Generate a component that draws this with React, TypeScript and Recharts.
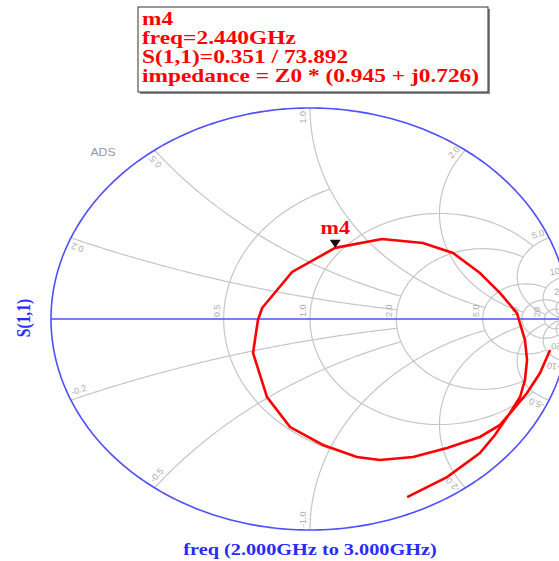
import React from "react";
import { ScatterChart, Scatter, XAxis, YAxis } from "recharts";

const W = 559;
const H = 561;
// centre of the Smith circle on the page and its radii (the plot is stretched sideways)
const CX = 310;
const CY = 319;
const RX = 259;
const RY = 211;
const STRETCH = RX / RY;

const X_MIN = -CX / RX;
const X_MAX = (W - CX) / RX;
const Y_MIN = (CY - H) / RY;
const Y_MAX = CY / RY;

const GRID = "#c6c6c6";
const GRID_TEXT = "#aaaaaa";
const BLUE = "#4f4fff";
const TEXT_BLUE = "#2a2aff";
const RED = "#ff0000";

// grid circles, and how far each one is drawn along the other family
const resistances = [0.5, 1, 2, 5, 10, 20];
const resistanceReach = [1, 5, 5, 10, 20, Infinity];
const resistanceLabels = ["0.5", "1.0", "2.0", "5.0", "10", "20"];
const reactances = [0.2, 0.5, 1, 2, 5, 10, 20];
const reactanceReach = [2, 2, 5, 10, 20, Infinity, Infinity];
const reactanceLabels = ["0.2", "0.5", "1.0", "2.0", "5.0", "10", "20"];

const freqGHz = [
  2.0, 2.026, 2.052, 2.078, 2.104, 2.13, 2.155, 2.181, 2.207, 2.233, 2.259,
  2.285, 2.31, 2.336, 2.362, 2.388, 2.414, 2.44, 2.477, 2.515, 2.552, 2.589,
  2.627, 2.664, 2.701, 2.739, 2.776, 2.813, 2.851, 2.888, 2.925, 2.963, 3.0,
];
const s11Re = [
  0.927, 0.888, 0.838, 0.78, 0.734, 0.656, 0.529, 0.398, 0.27, 0.181, 0.05,
  -0.077, -0.166, -0.22, -0.201, -0.185, -0.069, 0.0974, 0.278, 0.436, 0.552, 0.656,
  0.734, 0.799, 0.83, 0.838, 0.83, 0.811, 0.772, 0.714, 0.656, 0.529, 0.375,
];
const s11Im = [
  -0.147, -0.256, -0.351, -0.436, -0.502, -0.559, -0.611, -0.654, -0.668, -0.654, -0.597,
  -0.512, -0.37, -0.161, -0.005, 0.052, 0.223, 0.3372, 0.379, 0.36, 0.313, 0.218,
  0.123, 0.028, -0.1, -0.194, -0.289, -0.37, -0.445, -0.55, -0.635, -0.749, -0.844,
];

const markerFreq = 2.44;
const markerName = "m4";
const markerLines = [
  "m4",
  "freq=2.440GHz",
  "S(1,1)=0.351 / 73.892",
  "impedance = Z0 * (0.945 + j0.726)",
];

type Pt = { x: number; y: number };

// reflection coefficient of a normalised impedance r + jx
const gamma = (r: number, x: number): Pt => {
  const d = (r + 1) * (r + 1) + x * x;
  return { x: (r * r + x * x - 1) / d, y: (2 * x) / d };
};

const N = 180;

const resistanceArc = (r: number, reach: number) => {
  const a = Math.atan(reach);
  const pts: Pt[] = [];
  for (let i = 0; i <= N; i++) pts.push(gamma(r, Math.tan(-a + (2 * a * i) / N)));
  return pts;
};

const reactanceArc = (x: number, reach: number) => {
  const a = Math.atan(reach);
  const pts: Pt[] = [];
  for (let i = 0; i <= N; i++) pts.push(gamma(Math.tan((a * i) / N), x));
  return pts;
};

const unitCircle: Pt[] = [];
for (let i = 0; i <= 360; i++) {
  const t = (i * Math.PI) / 180;
  unitCircle.push({ x: Math.cos(t), y: Math.sin(t) });
}

const realAxis: Pt[] = [{ x: -1, y: 0 }, { x: X_MAX, y: 0 }];

const gridArcs: Pt[][] = [
  ...resistances.map((r, i) => resistanceArc(r, resistanceReach[i])),
  ...reactances.flatMap((x, i) => [reactanceArc(x, reactanceReach[i]), reactanceArc(-x, reactanceReach[i])]),
];

const rLabelData = resistances.map((r, i) => ({ ...gamma(r, 0), text: resistanceLabels[i], kind: "r" }));
const xLabelData = reactances.flatMap((x, i) => [
  { ...gamma(0, x), text: reactanceLabels[i], kind: "x" },
  { ...gamma(0, -x), text: "-" + reactanceLabels[i], kind: "x" },
]);

const trace: Pt[] = freqGHz.map((_, i) => ({ x: s11Re[i], y: s11Im[i] }));
const mi = freqGHz.findIndex((f) => Math.abs(f - markerFreq) < 1e-6);
const markerPoint = [{ x: s11Re[mi], y: s11Im[mi] }];

const noDot = () => <g />;

function GridLabel(props: any) {
  const { cx, cy, payload } = props;
  const style = { fontFamily: "Liberation Sans, Arial, sans-serif", fontSize: 9, fill: GRID_TEXT };
  if (payload.kind === "r") {
    const ax = cx - 4;
    const ay = cy - 2;
    return (
      <text x={ax} y={ay} transform={`rotate(-90 ${ax} ${ay})`} style={style}>
        {payload.text}
      </text>
    );
  }
  const ox = payload.x * RX;
  const oy = -payload.y * RY;
  const n = Math.hypot(ox, oy);
  const o = [ox / n, oy / n];
  const upper = payload.y >= 0;
  const d = upper ? o : [-o[0], -o[1]];
  const u = [d[1], -d[0]];
  const ax = cx - o[0] * 3 + u[0] * 4;
  const ay = cy - o[1] * 3 + u[1] * 4;
  const ang = (Math.atan2(d[1], d[0]) * 180) / Math.PI;
  return (
    <text x={ax} y={ay} transform={`rotate(${ang} ${ax} ${ay})`} textAnchor={upper ? "end" : "start"} style={style}>
      {payload.text}
    </text>
  );
}

function MarkerShape(props: any) {
  const { cx, cy } = props;
  return (
    <g>
      <polygon points={`${cx - 5.5},${cy - 8} ${cx + 5.5},${cy - 8} ${cx},${cy}`} fill="#111" />
      <text
        transform={`translate(${cx} ${cy - 14}) scale(${STRETCH} 1)`}
        textAnchor="middle"
        style={{ fontFamily: "Liberation Serif, serif", fontWeight: 700, fontSize: 18, fill: RED }}
      >
        {markerName}
      </text>
    </g>
  );
}

export default function App() {
  const serif = "Liberation Serif, 'Times New Roman', serif";
  return (
    <div style={{ position: "absolute", left: 0, top: 0, width: W, height: H, overflow: "hidden", background: "#fff" }}>
      <ScatterChart width={W} height={H} margin={{ top: 0, right: 0, bottom: 0, left: 0 }}>
        <XAxis type="number" dataKey="x" domain={[X_MIN, X_MAX]} allowDataOverflow hide />
        <YAxis type="number" dataKey="y" domain={[Y_MIN, Y_MAX]} allowDataOverflow hide />
        {gridArcs.map((arc, i) => (
          <Scatter
            key={`g${i}`}
            data={arc}
            line={{ stroke: GRID, strokeWidth: 1.2 }}
            lineType="joint"
            shape={noDot}
            isAnimationActive={false}
          />
        ))}
        <Scatter data={realAxis} line={{ stroke: BLUE, strokeWidth: 1.6 }} shape={noDot} isAnimationActive={false} />
        <Scatter data={unitCircle} line={{ stroke: BLUE, strokeWidth: 1.6 }} shape={noDot} isAnimationActive={false} />
        <Scatter data={rLabelData} shape={GridLabel} isAnimationActive={false} />
        <Scatter data={xLabelData} shape={GridLabel} isAnimationActive={false} />
        <Scatter data={trace} line={{ stroke: RED, strokeWidth: 2.6 }} shape={noDot} isAnimationActive={false} />
        <Scatter data={markerPoint} shape={MarkerShape} isAnimationActive={false} />
      </ScatterChart>
      <svg width={W} height={H} style={{ position: "absolute", left: 0, top: 0, pointerEvents: "none" }}>
        <rect x={140} y={9} width={350} height={85} fill="#8a8a8a" />
        <rect x={138} y={7} width={350} height={85} fill="#fff" stroke="#333" strokeWidth={1} />
        {markerLines.map((t, i) => (
          <text
            key={t}
            transform={`translate(142 ${25 + i * 19}) scale(1.3 1)`}
            style={{ fontFamily: serif, fontWeight: 700, fontSize: 18, fill: RED }}
          >
            {t}
          </text>
        ))}
        <text
          transform={`translate(103 156) scale(${STRETCH} 1)`}
          textAnchor="middle"
          style={{ fontFamily: "Liberation Sans, Arial, sans-serif", fontSize: 10, fill: "#999" }}
        >
          ADS
        </text>
        <text
          transform={`translate(30 318) rotate(-90) scale(1 ${STRETCH})`}
          textAnchor="middle"
          style={{ fontFamily: serif, fontWeight: 700, fontSize: 15.5, fill: TEXT_BLUE }}
        >
          S(1,1)
        </text>
        <text
          transform={`translate(310 555) scale(${STRETCH} 1)`}
          textAnchor="middle"
          style={{ fontFamily: serif, fontWeight: 700, fontSize: 16.5, fill: TEXT_BLUE }}
        >
          freq (2.000GHz to 3.000GHz)
        </text>
      </svg>
    </div>
  );
}
